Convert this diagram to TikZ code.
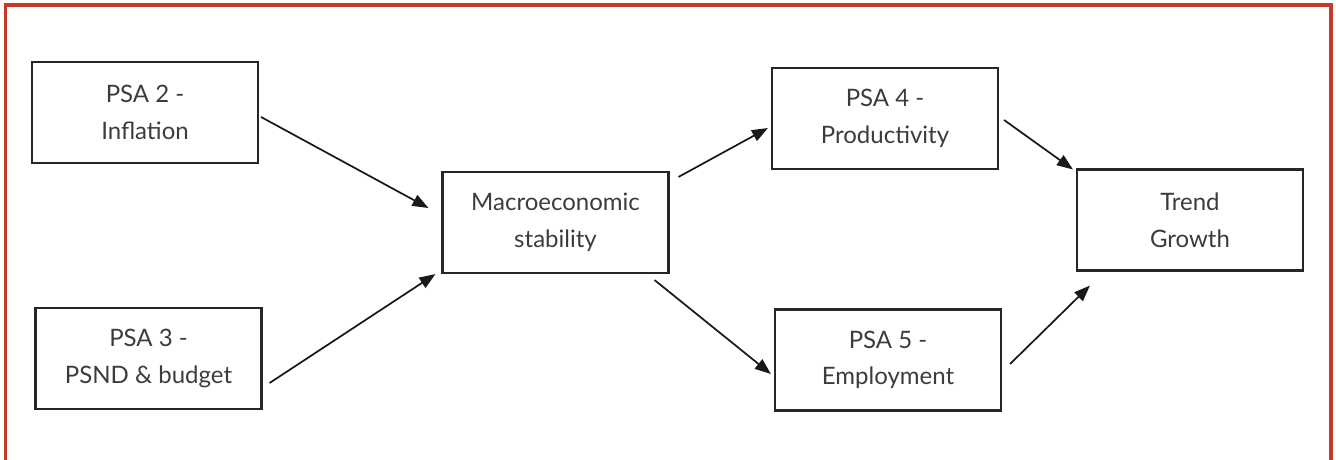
\documentclass[tikz,border=0pt]{standalone}
\usepackage{fontspec}
\setmainfont{Lato}
\usetikzlibrary{arrows.meta,calc}
\definecolor{framered}{HTML}{C73A2A}
\definecolor{boxline}{HTML}{262626}
\definecolor{txt}{HTML}{3C3C3C}
\tikzset{
  box/.style={draw=boxline, line width=1.6pt, minimum width=169.5pt, minimum height=75.75pt,
    align=center, inner sep=0pt, text=txt, font=\fontsize{18}{27.5}\selectfont},
  link/.style={draw=black!90, line width=1.3pt, -{Triangle[length=12pt,width=9pt]}},
  frame/.style={draw=framered, line width=2.4pt}
}
\begin{document}
\begin{tikzpicture}[x=0.75pt,y=-0.75pt]
\useasboundingbox (0,0) rectangle (1336,460);
\draw[frame] (5.5,470) -- (5.5,5) -- (1331,5) -- (1331,470);
\node[box] (psa2) at (145,112.5) {PSA 2 -\\Inflation};
\node[box] (psa3) at (148.5,358.5) {PSA 3 -\\PSND \& budget};
\node[box] (macro) at (555.5,222.5) {Macroeconomic\\stability};
\node[box] (psa4) at (885,118.5) {PSA 4 -\\Productivity};
\node[box] (psa5) at (888,360) {PSA 5 -\\Employment};
\node[box] (trend) at (1190,220) {Trend\\Growth};
\draw[link] ($(psa2.east)+(2,4.5)$) -- ($(macro.west)+(-13,-14.5)$);
\draw[link] ($(psa3.east)+(7,24.5)$) -- ($(macro.south west)+(-6,0)$);
\draw[link] ($(macro.north east)+(9,6)$) -- ($(psa4.west)+(-3,9.5)$);
\draw[link] ($(macro.south east)+(-15,6)$) -- ($(psa5.west)+(-3,14)$);
\draw[link] ($(psa4.east)+(5,1.5)$) -- ($(trend.north west)+(-3,1)$);
\draw[link] ($(psa5.east)+(8,4)$) -- ($(trend.south west)+(14,14)$);
\end{tikzpicture}
\end{document}
